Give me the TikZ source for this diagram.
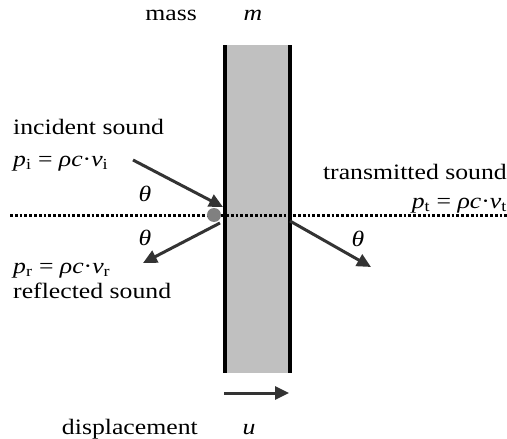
\documentclass[tikz,border=0pt]{standalone}
\usepackage{fontspec}
\setmainfont{Liberation Serif}[FakeStretch=1.17]
\usetikzlibrary{arrows.meta}
\definecolor{wallgray}{RGB}{192,192,192}
\definecolor{dotgray}{RGB}{128,128,128}
\definecolor{arrgray}{RGB}{51,51,51}
\tikzset{
  lbl/.style={inner sep=0pt, font=\fontsize{22}{25}\selectfont},
  ray/.style={draw=arrgray, line width=3pt, -{Triangle[length=14pt,width=13pt]}},
  edge/.style={line width=3.2pt, black},
}
\newcommand{\mysub}[1]{\textsubscript{\upshape #1}}
\begin{document}
\begin{tikzpicture}[x=1pt,y=-1pt]
\useasboundingbox (0,0) rectangle (507,439);
% wall
\fill[wallgray] (224,45) rectangle (291,373);
\draw[edge] (225,45) -- (225,373);
\draw[edge] (290,45) -- (290,373);
% dotted axis
\coordinate (axL) at (10,215);
\coordinate (axR) at (507,215);
\draw[line width=3pt, dash pattern=on 2.8pt off 2pt] (axL) -- (axR);
\fill[dotgray] (214,215) circle (7);
% rays
\coordinate (iS) at (133,160);
\coordinate (iE) at (223,207);
\coordinate (rS) at (220,223);
\coordinate (rE) at (143,263);
\coordinate (tS) at (290,221);
\coordinate (tE) at (371,267);
\coordinate (dS) at (224,393);
\coordinate (dE) at (289,393);
\draw[ray] (iS) -- (iE);
\draw[ray] (rS) -- (rE);
\draw[ray] (tS) -- (tE);
\draw[ray] (dS) -- (dE);
% labels
\node[lbl, anchor=base west] (inc) at (13,134) {incident sound};
\node[lbl, anchor=base west] (pi) at (13,166) {\textit{p}\mysub{i} = \textit{ρc}·\textit{v}\mysub{i}};
\node[lbl, anchor=base east] (trans) at (507,179) {transmitted sound};
\node[lbl, anchor=base east] (pt) at (507,208) {\textit{p}\mysub{t} = \textit{ρc}·\textit{v}\mysub{t}};
\node[lbl, anchor=base west] (pr) at (13,273) {\textit{p}\mysub{r} = \textit{ρc}·\textit{v}\mysub{r}};
\node[lbl, anchor=base west] (refl) at (13,298) {reflected sound};
\node[lbl] (th1) at (145,194) {\textit{θ}};
\node[lbl] (th2) at (145,238) {\textit{θ}};
\node[lbl] (th3) at (358,239) {\textit{θ}};
\node[lbl, anchor=base east] (mass) at (197,20) {mass};
\node[lbl, anchor=base] (m) at (253,20) {\textit{m}};
\node[lbl, anchor=base east] (disp) at (198,434) {displacement};
\node[lbl, anchor=base] (u) at (249,434) {\textit{u}};
\end{tikzpicture}
\end{document}
